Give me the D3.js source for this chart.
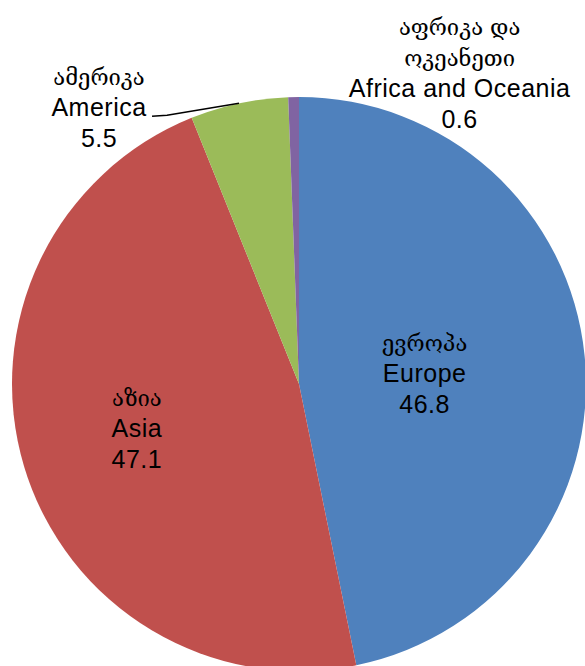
<!DOCTYPE html>
<html>
<head>
<meta charset="utf-8">
<script src="https://cdn.jsdelivr.net/npm/d3@7"></script>
<style>
  body { margin: 0; background: #fff; }
  text { font-family: "Liberation Sans", Arial, sans-serif; fill: #000; }
  .ka { font-family: "DejaVu Serif", "DejaVu Sans", serif; }
</style>
</head>
<body>
<div id="chart"></div>
<script>
// chart data
var regions = ["Europe", "Asia", "America", "Africa and Oceania"];
var regionsKa = [["ევროპა"], ["აზია"], ["ამერიკა"], ["აფრიკა და", "ოკეანეთი"]];
var shares = [46.8, 47.1, 5.5, 0.6];
var colors = ["#4F81BD", "#C0504D", "#9BBB59", "#8064A2"];

var width = 585, height = 666;
var cx = 299, cy = 384, radius = 287;
var lineH = 31;

var svg = d3.select("#chart")
  .append("svg")
  .attr("width", width)
  .attr("height", height);

var g = svg.append("g")
  .attr("transform", "translate(" + cx + "," + cy + ")");

var pie = d3.pie().sort(null).value(function(d) { return d; });
var arcs = pie(shares);

var arc = d3.arc().innerRadius(0).outerRadius(radius);
var edgeArc = d3.arc().innerRadius(radius).outerRadius(radius);

// slices
g.selectAll("path.slice")
  .data(arcs)
  .enter()
  .append("path")
  .attr("class", "slice")
  .attr("d", arc)
  .attr("fill", function(d, i) { return colors[i]; });

// where each label block sits (center x, baseline of english line)
function labelAnchor(d, i) {
  if (i == 0) {
    var c = d3.arc().innerRadius(radius * 0.44).outerRadius(radius * 0.44).centroid(d);
    return [c[0], c[1] + 11];
  }
  if (i == 1) {
    var c2 = d3.arc().innerRadius(radius * 0.59).outerRadius(radius * 0.59).centroid(d);
    return [c2[0], c2[1] + 4];
  }
  var p = edgeArc.centroid(d);
  if (i == 2) return [p[0] - 140, p[1] + 13];
  return [p[0] + 166, p[1] + 0];
}

// leader line for America
var am = edgeArc.centroid(arcs[2]);
g.append("polyline")
  .attr("points", [[am[0], am[1]], [am[0] - 72, am[1] + 12], [am[0] - 87, am[1] + 13]].join(" "))
  .attr("fill", "none")
  .attr("stroke", "#000")
  .attr("stroke-width", 1.5);

var labels = g.selectAll("g.label")
  .data(arcs)
  .enter()
  .append("g")
  .attr("class", "label")
  .attr("transform", function(d, i) {
    var a = labelAnchor(d, i);
    return "translate(" + a[0] + "," + a[1] + ")";
  });

labels.each(function(d, i) {
  var lab = d3.select(this);
  var ka = regionsKa[i];
  ka.forEach(function(t, j) {
    lab.append("text")
      .attr("class", "ka")
      .attr("text-anchor", "middle")
      .attr("y", -lineH * (ka.length - j))
      .style("font-size", "22px")
      .text(t);
  });
  lab.append("text")
    .attr("text-anchor", "middle")
    .style("font-size", "25px")
    .style("letter-spacing", "0.5px")
    .text(regions[i]);
  lab.append("text")
    .attr("text-anchor", "middle")
    .attr("y", lineH)
    .style("font-size", "25px")
    .style("letter-spacing", "0.5px")
    .text(shares[i]);
});
</script>
</body>
</html>
